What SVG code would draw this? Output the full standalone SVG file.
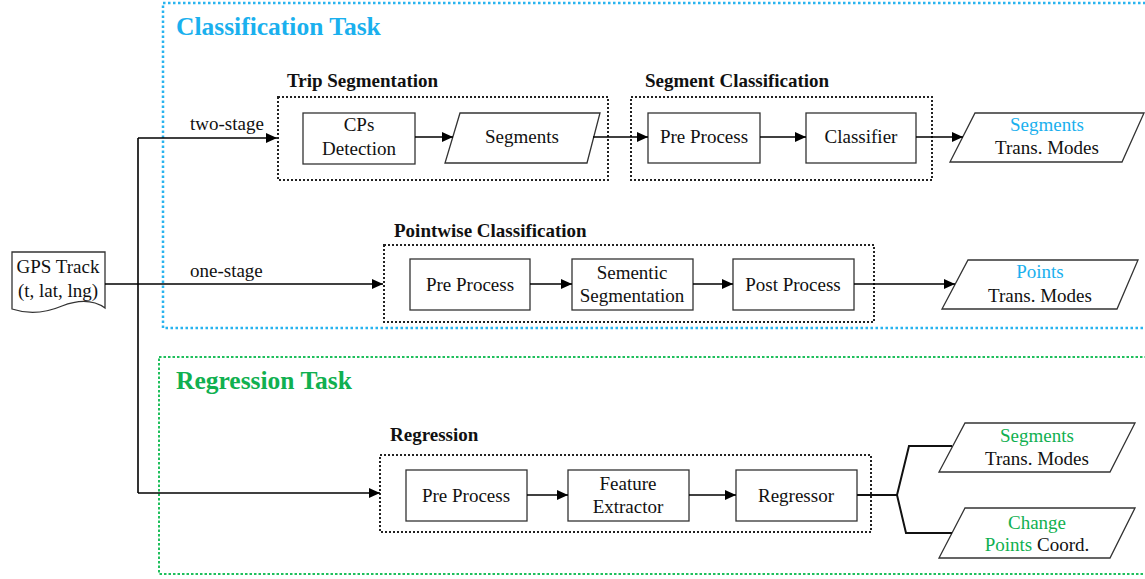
<svg xmlns="http://www.w3.org/2000/svg" width="1145" height="579" viewBox="0 0 1145 579">
<defs>
<marker id="arr" markerUnits="userSpaceOnUse" markerWidth="12" markerHeight="10" refX="11" refY="5" orient="auto">
<path d="M0,0 L11,5 L0,10 Z" fill="#000"/>
</marker>
<style>
text{font-family:"Liberation Serif","Times New Roman",serif;font-size:19px;fill:#111}
.t{font-weight:bold;font-size:19px}
.big{font-weight:bold;font-size:25.5px}
.c{text-anchor:middle}
.blue{fill:#1ab0ee}
.green{fill:#10b050}
.box{fill:#fff;stroke:#333;stroke-width:1.3}
.grp{fill:none;stroke:#222;stroke-width:2;stroke-dasharray:2 2}
.line{fill:none;stroke:#000;stroke-width:1.6}
.fork{fill:none;stroke:#111;stroke-width:2}
</style>
</defs>
<rect id="classification-task" x="163" y="3" width="1000" height="325" fill="none" stroke="#29b4ef" stroke-width="2.5" stroke-dasharray="2.5 2.5"/>
<rect id="regression-task" x="159" y="357" width="1000" height="217" fill="none" stroke="#1fbf5c" stroke-width="2" stroke-dasharray="2.5 2"/>
<text class="big blue" x="176" y="35">Classification Task</text>
<text class="big green" x="176" y="389">Regression Task</text>

<g id="trip-segmentation">
<rect class="grp" x="278" y="97" width="330" height="83"/>
<text class="t" x="287" y="87">Trip Segmentation</text>
</g>
<g id="segment-classification">
<rect class="grp" x="631" y="97" width="301" height="83"/>
<text class="t" x="645" y="87">Segment Classification</text>
</g>
<g id="pointwise-classification">
<rect class="grp" x="384" y="245" width="490" height="77"/>
<text class="t" x="394" y="237">Pointwise Classification</text>
</g>
<g id="regression">
<rect class="grp" x="380" y="455" width="491" height="77"/>
<text class="t" x="390" y="441">Regression</text>
</g>

<g id="gps-track">
<path class="box" d="M12,252 H105 V308 Q88,296 62,306 Q36,317 12,309 Z"/>
<text class="c" x="58" y="273">GPS Track</text>
<text class="c" x="58" y="297">(t, lat, lng)</text>
</g>

<g id="cps-detection">
<rect class="box" x="303" y="113" width="112" height="51"/>
<text class="c" x="359" y="131">CPs</text>
<text class="c" x="359" y="155">Detection</text>
</g>
<g id="segments">
<path class="box" d="M460,113 H600 L587,163 H445 Z"/>
<text class="c" x="522" y="143">Segments</text>
</g>
<g id="pre-process-1">
<rect class="box" x="648" y="113" width="112" height="50"/>
<text class="c" x="704" y="143">Pre Process</text>
</g>
<g id="classifier">
<rect class="box" x="806" y="113" width="110" height="50"/>
<text class="c" x="861" y="143">Classifier</text>
</g>
<g id="out-segments-cls">
<path class="box" d="M975,113 H1144 L1122,162 H950 Z"/>
<text class="c blue" x="1047" y="131">Segments</text>
<text class="c" x="1047" y="154">Trans. Modes</text>
</g>

<g id="pre-process-2">
<rect class="box" x="410" y="259" width="120" height="51"/>
<text class="c" x="470" y="291">Pre Process</text>
</g>
<g id="semantic-segmentation">
<rect class="box" x="572" y="259" width="121" height="51"/>
<text class="c" x="632" y="279">Sementic</text>
<text class="c" x="632" y="302">Segmentation</text>
</g>
<g id="post-process">
<rect class="box" x="733" y="259" width="121" height="51"/>
<text class="c" x="793" y="291">Post Process</text>
</g>
<g id="out-points">
<path class="box" d="M968,260 H1138 L1117,309 H942 Z"/>
<text class="c blue" x="1040" y="278">Points</text>
<text class="c" x="1040" y="302">Trans. Modes</text>
</g>

<g id="pre-process-3">
<rect class="box" x="406" y="470" width="121" height="51"/>
<text class="c" x="466" y="502">Pre Process</text>
</g>
<g id="feature-extractor">
<rect class="box" x="568" y="470" width="121" height="51"/>
<text class="c" x="628" y="490">Feature</text>
<text class="c" x="628" y="513">Extractor</text>
</g>
<g id="regressor">
<rect class="box" x="736" y="470" width="121" height="51"/>
<text class="c" x="796" y="502">Regressor</text>
</g>
<g id="out-segments-reg">
<path class="box" d="M965,423 H1135 L1110,472 H939 Z"/>
<text class="c green" x="1037" y="442">Segments</text>
<text class="c" x="1037" y="465">Trans. Modes</text>
</g>
<g id="out-change-points">
<path class="box" d="M965,508 H1135 L1110,558 H939 Z"/>
<text class="c green" x="1037" y="529">Change</text>
<text x="1037" y="551" class="c"><tspan class="green">Points</tspan> Coord.</text>
</g>

<g id="connectors">
<path class="line" d="M138,138 V493"/>
<path class="line" d="M138,138 H277" marker-end="url(#arr)"/>
<path class="line" d="M105,284 H383" marker-end="url(#arr)"/>
<path class="line" d="M138,493 H380" marker-end="url(#arr)"/>
<path class="line" d="M415,137 H453" marker-end="url(#arr)"/>
<path class="line" d="M593,137 H648" marker-end="url(#arr)"/>
<path class="line" d="M760,137 H806" marker-end="url(#arr)"/>
<path class="line" d="M916,137 H963" marker-end="url(#arr)"/>
<path class="line" d="M530,284 H572" marker-end="url(#arr)"/>
<path class="line" d="M693,284 H733" marker-end="url(#arr)"/>
<path class="line" d="M854,284 H955" marker-end="url(#arr)"/>
<path class="line" d="M527,495 H568" marker-end="url(#arr)"/>
<path class="line" d="M689,495 H736" marker-end="url(#arr)"/>
<path class="fork" d="M857,495 H897 L909,446 H952 M897,495 L906,533 H952"/>
<text x="190" y="130">two-stage</text>
<text x="190" y="277">one-stage</text>
</g>
</svg>
